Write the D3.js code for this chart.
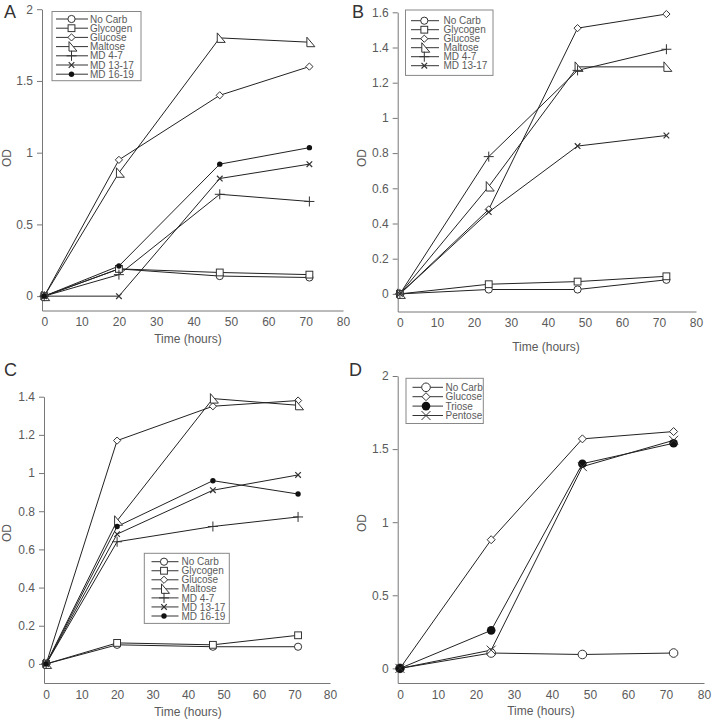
<!DOCTYPE html>
<html>
<head>
<meta charset="UTF-8">
<title>OD growth curves</title>
<script src="https://d3js.org/d3.v7.min.js"></script>
<style>
  body { margin: 0; background: #fff; font-family: "Liberation Sans", Arial, sans-serif; }
  svg text { fill: #5a5a5a; }
</style>
</head>
<body>
<div id="chart"></div>
<script>
// ---- data ----
const xTicks = [0, 10, 20, 30, 40, 50, 60, 70, 80];

// panel A
const timesA = [0, 20, 47, 71];
const noCarbA   = [0, 0.19, 0.14, 0.13];
const glycogenA = [0, 0.19, 0.165, 0.15];
const glucoseA  = [0, 0.95, 1.40, 1.60];
const maltoseA  = [0, 0.86, 1.80, 1.77];
const md47A     = [0, 0.15, 0.71, 0.66];
const md1317A   = [0, 0.0, 0.82, 0.92];
const md1619A   = [0, 0.21, 0.92, 1.035];
const yTicksA = [0, 0.5, 1, 1.5, 2];

// panel B
const timesB = [0, 24, 48, 72];
const noCarbB   = [0, 0.025, 0.025, 0.08];
const glycogenB = [0, 0.055, 0.07, 0.10];
const glucoseB  = [0, 0.48, 1.51, 1.59];
const maltoseB  = [0, 0.61, 1.29, 1.29];
const md47B     = [0, 0.78, 1.27, 1.39];
const md1317B   = [0, 0.465, 0.84, 0.90];
const yTicksB = [0, 0.2, 0.4, 0.6, 0.8, 1, 1.2, 1.4, 1.6];

// panel C
const timesC = [0, 20, 47, 71];
const noCarbC   = [0, 0.10, 0.09, 0.09];
const glycogenC = [0, 0.11, 0.10, 0.15];
const glucoseC  = [0, 1.17, 1.35, 1.38];
const maltoseC  = [0, 0.75, 1.39, 1.355];
const md47C     = [0, 0.64, 0.72, 0.77];
const md1317C   = [0, 0.68, 0.91, 0.99];
const md1619C   = [0, 0.72, 0.96, 0.89];
const yTicksC = [0, 0.2, 0.4, 0.6, 0.8, 1, 1.2, 1.4];

// panel D
const timesD = [0, 24, 48, 72];
const noCarbD  = [0, 0.105, 0.095, 0.105];
const glucoseD = [0, 0.88, 1.57, 1.62];
const trioseD  = [0, 0.26, 1.40, 1.54];
const pentoseD = [0, 0.125, 1.38, 1.56];
const yTicksD = [0, 0.5, 1, 1.5, 2];

const fullSeries = (nc, gy, gl, ma, m47, m1317, m1619) => [
  { name: "No Carb",  mk: "circle",  v: nc },
  { name: "Glycogen", mk: "square",  v: gy },
  { name: "Glucose",  mk: "diamond", v: gl },
  { name: "Maltose",  mk: "tri",     v: ma },
  { name: "MD 4-7",   mk: "plus",    v: m47 },
  { name: "MD 13-17", mk: "cross",   v: m1317 },
  { name: "MD 16-19", mk: "dot",     v: m1619 }
].filter(s => s.v);

// layout per panel (pixel positions)
const panels = [
  { letter: "A", lx: 4, ly: 18, times: timesA, yMax: 2, yTicks: yTicksA,
    x0: 42, x1: 343, yb: 310.5, yt: 9.2, small: true,
    series: fullSeries(noCarbA, glycogenA, glucoseA, maltoseA, md47A, md1317A, md1619A),
    leg: { x: 52, y: 11.5, w: 89, rowY: 19, dy: 9.2, sx: 71.5, l0: 56, l1: 88, tx: 90 },
    tx: 188, ty: 343, ox: 11, oy: 158 },
  { letter: "B", lx: 352, ly: 18, times: timesB, yMax: 1.6, yTicks: yTicksB,
    x0: 397.7, x1: 696, yb: 311.5, yt: 12.3, small: true,
    series: fullSeries(noCarbB, glycogenB, glucoseB, maltoseB, md47B, md1317B, null),
    leg: { x: 405.5, y: 10, w: 87.5, rowY: 20.7, dy: 9, sx: 424.3, l0: 411, l1: 439, tx: 443.5 },
    tx: 546, ty: 351, ox: 366, oy: 158 },
  { letter: "C", lx: 4, ly: 376, times: timesC, yMax: 1.4, yTicks: yTicksC,
    x0: 44, x1: 330, yb: 683, yt: 396.7, small: true,
    series: fullSeries(noCarbC, glycogenC, glucoseC, maltoseC, md47C, md1317C, md1619C),
    leg: { x: 144.3, y: 553.3, w: 85, rowY: 561.7, dy: 9.05, sx: 164, l0: 151.5, l1: 178.5, tx: 181.5 },
    tx: 188, ty: 716, ox: 11, oy: 533 },
  { letter: "D", lx: 349, ly: 376, times: timesD, yMax: 2, yTicks: yTicksD,
    x0: 397.7, x1: 704, yb: 683, yt: 376, small: false,
    series: [
      { name: "No Carb", mk: "circle",  v: noCarbD },
      { name: "Glucose", mk: "diamond", v: glucoseD },
      { name: "Triose",  mk: "dot",     v: trioseD },
      { name: "Pentose", mk: "cross",   v: pentoseD }
    ],
    leg: { x: 406, y: 378.3, w: 77.3, rowY: 387.3, dy: 9.4, sx: 426, l0: 412.5, l1: 443, tx: 445.5 },
    tx: 541, ty: 715, ox: 366, oy: 523 }
];

const svg = d3.select("#chart").append("svg")
  .attr("width", 712).attr("height", 720);

function marker(g, type, small) {
  const stroke = "#333";
  const r = small ? 3.6 : 4.3;
  if (type === "circle") {
    g.append("circle").attr("r", r).attr("fill", "#fff").attr("stroke", stroke);
  } else if (type === "square") {
    g.append("rect").attr("x", -3.4).attr("y", -3.4).attr("width", 6.8).attr("height", 6.8)
      .attr("fill", "#fff").attr("stroke", stroke);
  } else if (type === "diamond") {
    const s = small ? 3.6 : 4;
    g.append("path").attr("d", `M0,${-s}L${s},0L0,${s}L${-s},0Z`)
      .attr("fill", "#fff").attr("stroke", stroke);
  } else if (type === "tri") {
    g.append("path").attr("d", "M-2.5,-5L-2.5,4.5L5.5,4.5Z")
      .attr("fill", "#fff").attr("stroke", stroke);
  } else if (type === "plus") {
    g.append("path").attr("d", "M-5,0H5M0,-5V5").attr("stroke", stroke).attr("fill", "none");
  } else if (type === "cross") {
    const s = small ? 2.8 : 4.5;
    g.append("path").attr("d", `M${-s},${-s}L${s},${s}M${-s},${s}L${s},${-s}`)
      .attr("stroke", stroke).attr("stroke-width", small ? 1.2 : 1).attr("fill", "none");
  } else if (type === "dot") {
    g.append("circle").attr("r", small ? 2.7 : 4.3).attr("fill", "#111");
  }
}

panels.forEach(p => {
  const x = d3.scaleLinear().domain([-0.6, 80]).range([p.x0, p.x1]);
  const y = d3.scaleLinear().domain([-0.1, p.yMax]).range([p.yb, p.yt]);
  const g = svg.append("g");

  // axes
  const xa = g.append("g").attr("transform", `translate(0,${p.yb})`)
    .call(d3.axisBottom(x).tickValues(xTicks).tickSize(0).tickPadding(7).tickFormat(d3.format("d")));
  const ya = g.append("g").attr("transform", `translate(${p.x0},0)`)
    .call(d3.axisLeft(y).tickValues(p.yTicks).tickSize(5).tickSizeOuter(0).tickPadding(4)
      .tickFormat(d => String(d)));
  [xa, ya].forEach(a => {
    a.select(".domain").attr("stroke", "#777");
    a.selectAll(".tick line").attr("stroke", "#777");
    a.selectAll("text").attr("font-size", 12).attr("font-family", "Liberation Sans, Arial, sans-serif")
      .attr("fill", "#5a5a5a");
  });

  g.append("text").attr("x", p.tx).attr("y", p.ty).attr("text-anchor", "middle")
    .attr("font-size", 12).text("Time (hours)");
  g.append("text").attr("transform", `translate(${p.ox},${p.oy}) rotate(-90)`)
    .attr("text-anchor", "middle").attr("font-size", 12).text("OD");
  g.append("text").attr("x", p.lx).attr("y", p.ly).attr("font-size", 18)
    .style("fill", "#333").text(p.letter);

  // lines
  const line = d3.line().x((d, i) => x(p.times[i])).y(d => y(d));
  p.series.forEach(s => {
    g.append("path").attr("d", line(s.v)).attr("fill", "none")
      .attr("stroke", "#222").attr("stroke-width", 1);
  });
  // markers
  p.series.forEach(s => {
    s.v.forEach((d, i) => {
      const m = g.append("g").attr("transform", `translate(${x(p.times[i])},${y(d)})`);
      marker(m, s.mk, p.small);
    });
  });

  // legend
  const L = p.leg;
  const n = p.series.length;
  g.append("rect").attr("x", L.x).attr("y", L.y).attr("width", L.w)
    .attr("height", (L.rowY - L.y) * 2 + (n - 1) * L.dy - 1)
    .attr("fill", "#fff").attr("stroke", "#888");
  p.series.forEach((s, i) => {
    const cy = L.rowY + i * L.dy;
    g.append("line").attr("x1", L.l0).attr("x2", L.l1).attr("y1", cy).attr("y2", cy)
      .attr("stroke", "#333");
    const m = g.append("g").attr("transform", `translate(${L.sx},${cy})`);
    marker(m, s.mk, p.small);
    g.append("text").attr("x", L.tx).attr("y", cy).attr("dy", "0.36em")
      .attr("font-size", 10).text(s.name);
  });
});
</script>
</body>
</html>
